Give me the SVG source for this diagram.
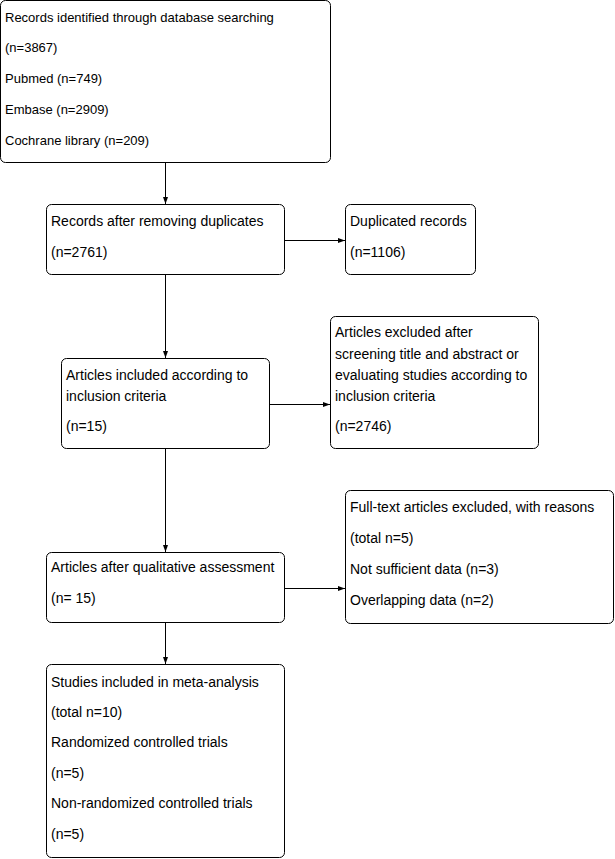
<svg xmlns="http://www.w3.org/2000/svg" width="615" height="859" viewBox="0 0 615 859">
<style>
.box{fill:#fff;stroke:#000;stroke-width:1}
text{font-family:"Liberation Sans",Arial,sans-serif;font-size:14px;fill:#000}
.s text{font-size:13px}
.c{stroke:#000;stroke-width:1;fill:none;marker-end:url(#ah)}
</style>
<defs>
<marker id="ah" viewBox="0 0 7 5" refX="7" refY="2.5" markerWidth="7" markerHeight="5" markerUnits="userSpaceOnUse" orient="auto">
<path d="M0,0 L7,2.5 L0,5 z" fill="#000"/>
</marker>
</defs>
<rect width="615" height="859" fill="#fff"/>
<g id="connectors">
<line class="c" x1="165.5" y1="163" x2="165.5" y2="204"/>
<line class="c" x1="285" y1="240.5" x2="345" y2="240.5"/>
<line class="c" x1="165.5" y1="275" x2="165.5" y2="358"/>
<line class="c" x1="270" y1="404.5" x2="330" y2="404.5"/>
<line class="c" x1="165.5" y1="448" x2="165.5" y2="552"/>
<line class="c" x1="285" y1="588.5" x2="345" y2="588.5"/>
<line class="c" x1="165.5" y1="622" x2="165.5" y2="664"/>
</g>
<g id="n1" class="s">
<rect class="box" x="0.5" y="0.5" width="330" height="162" rx="5"/>
<text x="5" y="22">Records identified through database searching</text>
<text x="5" y="52">(n=3867)</text>
<text x="5" y="83">Pubmed (n=749)</text>
<text x="5" y="114">Embase (n=2909)</text>
<text x="5" y="145">Cochrane library (n=209)</text>
</g>
<g id="n2">
<rect class="box" x="46.5" y="204.5" width="238" height="70" rx="5"/>
<text x="51" y="226">Records after removing duplicates</text>
<text x="51" y="257">(n=2761)</text>
</g>
<g id="n3">
<rect class="box" x="345.5" y="204.5" width="130" height="70" rx="5"/>
<text x="350" y="226">Duplicated records</text>
<text x="350" y="257">(n=1106)</text>
</g>
<g id="n4">
<rect class="box" x="61.5" y="358.5" width="208" height="90" rx="5"/>
<text x="66" y="380">Articles included according to</text>
<text x="66" y="401">inclusion criteria</text>
<text x="66" y="431">(n=15)</text>
</g>
<g id="n5">
<rect class="box" x="330.5" y="316.5" width="208" height="132" rx="5"/>
<text x="335" y="337">Articles excluded after</text>
<text x="335" y="359">screening title and abstract or</text>
<text x="335" y="380">evaluating studies according to</text>
<text x="335" y="401">inclusion criteria</text>
<text x="335" y="431">(n=2746)</text>
</g>
<g id="n6">
<rect class="box" x="46.5" y="552.5" width="238" height="70" rx="5"/>
<text x="51" y="572">Articles after qualitative assessment</text>
<text x="51" y="603">(n= 15)</text>
</g>
<g id="n7">
<rect class="box" x="345.5" y="490.5" width="268" height="133" rx="5"/>
<text x="350" y="512">Full-text articles excluded, with reasons</text>
<text x="350" y="543">(total n=5)</text>
<text x="350" y="574">Not sufficient data (n=3)</text>
<text x="350" y="605">Overlapping data (n=2)</text>
</g>
<g id="n8">
<rect class="box" x="46.5" y="664.5" width="238" height="193" rx="5"/>
<text x="51" y="687">Studies included in meta-analysis</text>
<text x="51" y="717">(total n=10)</text>
<text x="51" y="747">Randomized controlled trials</text>
<text x="51" y="778">(n=5)</text>
<text x="51" y="808">Non-randomized controlled trials</text>
<text x="51" y="839">(n=5)</text>
</g>
</svg>
